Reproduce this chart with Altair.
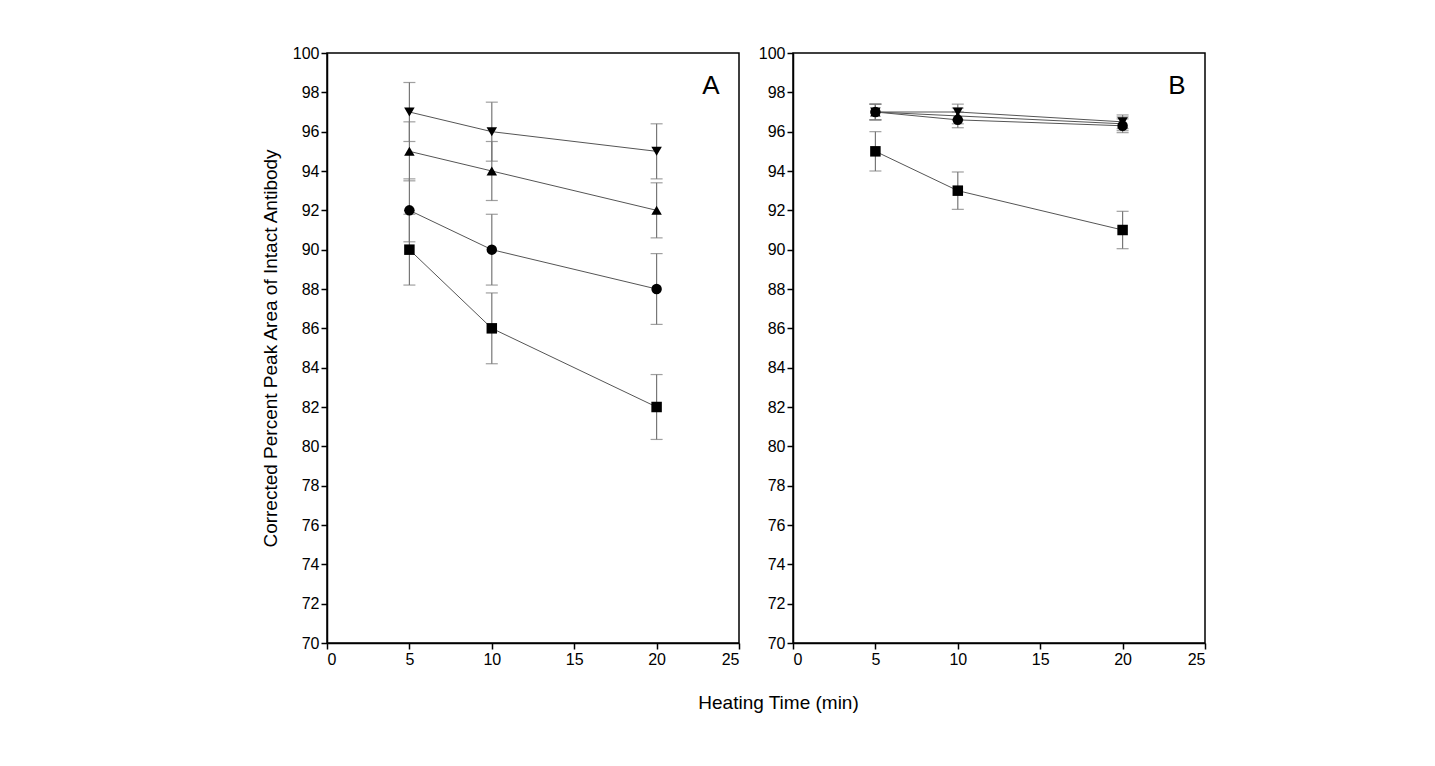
import altair as alt
import pandas as pd

times = [5, 10, 20]
series = ["down", "up", "circle", "square"]
shapes = {"down": "triangle-down", "up": "triangle-up", "circle": "circle", "square": "square"}

a_values = {"down": [97, 96, 95], "up": [95, 94, 92], "circle": [92, 90, 88], "square": [90, 86, 82]}
a_errors = {"down": [1.5, 1.5, 1.4], "up": [1.5, 1.5, 1.4], "circle": [1.6, 1.8, 1.8], "square": [1.8, 1.8, 1.65]}
b_values = {"down": [97, 97, 96.5], "up": [97, 96.8, 96.4], "circle": [97, 96.6, 96.3], "square": [95, 93, 91]}
b_errors = {"down": [0.4, 0.4, 0.35], "up": [0.4, 0.4, 0.35], "circle": [0.4, 0.4, 0.35], "square": [1.0, 0.95, 0.95]}

FONT = "Liberation Sans"


def build_frame(values, errors):
    rows = []
    for s in series:
        for t, v, e in zip(times, values[s], errors[s]):
            rows.append({"time": t, "value": v, "lo": v - e, "hi": v + e, "series": s})
    return pd.DataFrame(rows)


def build_panel(values, errors, letter, y_title):
    df = build_frame(values, errors)
    x = alt.X("time:Q", title=None, scale=alt.Scale(domain=[0, 25]),
              axis=alt.Axis(values=[0, 5, 10, 15, 20, 25], grid=False, labelOverlap=False,
                            labelFontSize=16, labelFont=FONT))
    y_axis = alt.Axis(values=list(range(70, 101, 2)), grid=False, title=y_title,
                      labelOverlap=False, labelFlush=False, labelFontSize=16, labelFont=FONT,
                      titleFontSize=19, titleFont=FONT, titleFontWeight="normal", titlePadding=12)
    ysc = alt.Scale(domain=[70, 100])

    def yenc(field):
        return alt.Y(f"{field}:Q", scale=ysc, axis=y_axis)

    base = alt.Chart(df)
    stems = base.mark_rule(color="#777777", strokeWidth=1.2).encode(
        x=x, y=yenc("lo"), y2="hi:Q"
    )
    caps_lo = base.mark_tick(color="#777777", thickness=1.2, size=12, orient="horizontal").encode(
        x=x, y=yenc("lo")
    )
    caps_hi = base.mark_tick(color="#777777", thickness=1.2, size=12, orient="horizontal").encode(
        x=x, y=yenc("hi")
    )
    lines = base.mark_line(color="#555555", strokeWidth=1).encode(
        x=x, y=yenc("value"), detail="series:N"
    )
    points = base.mark_point(filled=True, color="black", opacity=1, size=110).encode(
        x=x, y=yenc("value"),
        shape=alt.Shape("series:N", scale=alt.Scale(domain=series, range=[shapes[s] for s in series]),
                        legend=None),
    )
    label = alt.Chart(pd.DataFrame({"time": [23.3], "value": [98.3], "t": [letter]})).mark_text(
        fontSize=26, font=FONT, color="black"
    ).encode(x=x, y=yenc("value"), text="t:N")

    return (stems + caps_lo + caps_hi + lines + points + label).properties(width=412, height=590)


panel_a = build_panel(a_values, a_errors, "A", "Corrected Percent Peak Area of Intact Antibody")
panel_b = build_panel(b_values, b_errors, "B", None)

chart = (
    alt.hconcat(panel_a, panel_b, spacing=16)
    .properties(
        title=alt.TitleParams("Heating Time (min)", orient="bottom", anchor="middle",
                              dx=45, fontSize=19, font=FONT, fontWeight="normal", offset=26),
        padding={"left": 252, "top": 36, "right": 10, "bottom": 10},
    )
    .configure_view(stroke="black", strokeWidth=1.5)
    .configure_axis(labelColor="black", titleColor="black",
                    domainColor="black", tickColor="black", tickSize=6, domainWidth=1.5,
                    tickWidth=1.5)
)

chart.save("out.html", embed_options={"renderer": "svg", "actions": False})
